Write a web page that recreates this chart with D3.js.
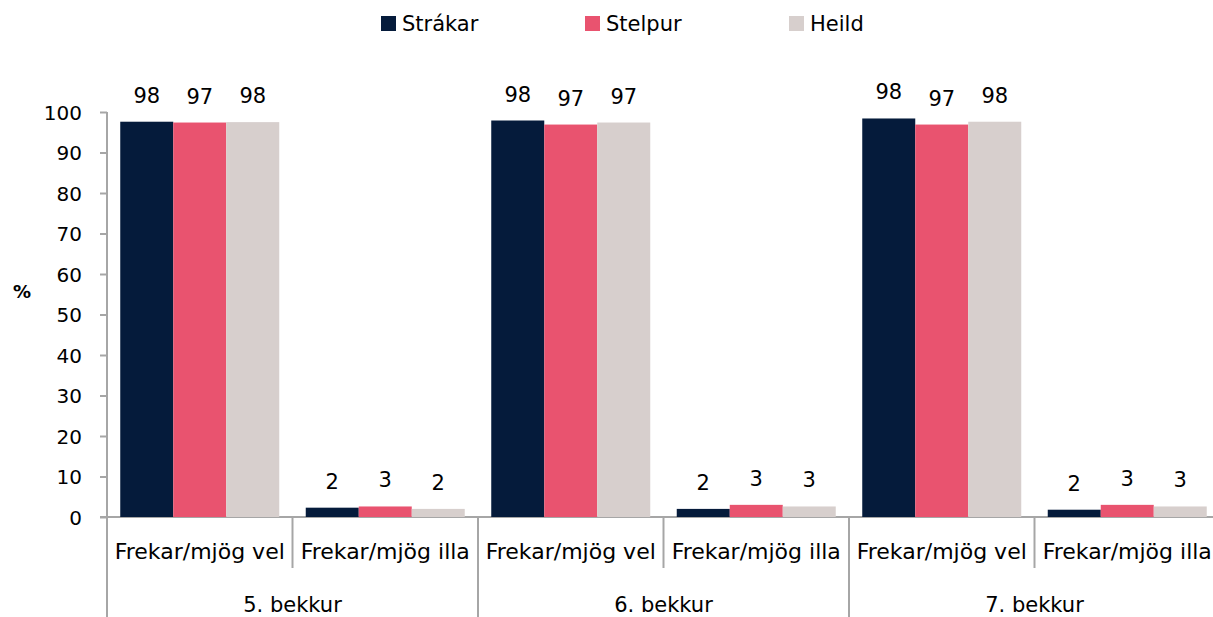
<!DOCTYPE html>
<html><head><meta charset="utf-8">
<script src="https://cdn.jsdelivr.net/npm/d3@7"></script>
<style>body{margin:0;background:#fff;} svg{display:block;} text{font-family:"DejaVu Sans",sans-serif;fill:#000;}</style>
</head><body><svg id="c" width="1213" height="617"></svg>
<script>
const groups = ["5. bekkur", "6. bekkur", "7. bekkur"];
const subcats = ["Frekar/mjög vel", "Frekar/mjög illa"];
const seriesNames = ["Strákar", "Stelpur", "Heild"];
const seriesColors = ["#051B3B", "#E9536F", "#D7CFCD"];
// values per series, order: group*2 + subcategory
const strakar = [97.6, 2.3, 97.9, 2.0, 98.4, 1.8];
const stelpur = [97.4, 2.6, 96.9, 3.0, 96.9, 3.0];
const heild   = [97.5, 2.0, 97.4, 2.6, 97.6, 2.6];
const labelsStrakar = ["98", "2", "98", "2", "98", "2"];
const labelsStelpur = ["97", "3", "97", "3", "97", "3"];
const labelsHeild   = ["98", "2", "97", "3", "98", "3"];
const yTicks = [0,10,20,30,40,50,60,70,80,90,100];

const seriesVals = [strakar, stelpur, heild];
const seriesLabels = [labelsStrakar, labelsStelpur, labelsHeild];

const svg = d3.select("#c");
const pLeft = 107, pRight = 1220, pTop = 112, pBottom = 517;
const axisColor = "#A6A6A6";
const fs = "21px";

const y = d3.scaleLinear().domain([0,100]).range([pBottom, pTop]);
const xg = d3.scaleBand().domain(groups).range([pLeft, pRight]).padding(0);
const xs = d3.scaleBand().domain(subcats).range([0, xg.bandwidth()]).padding(0);
const xb = d3.scaleBand().domain(seriesNames).range([0, xs.bandwidth()]).paddingOuter(0.25).paddingInner(0);

// y axis
const yAxis = d3.axisLeft(y).tickValues(yTicks).tickSize(7).tickPadding(18).tickSizeOuter(0);
const ya = svg.append("g").attr("transform", `translate(${pLeft},0)`).call(yAxis);
ya.select(".domain").attr("stroke", axisColor).attr("stroke-width", 2).attr("d", `M0,${pTop}V617`);
ya.selectAll(".tick line").attr("stroke", axisColor).attr("stroke-width", 2);
ya.selectAll(".tick text").style("font-size", "20px").style("font-family", "'DejaVu Sans', sans-serif").attr("fill", "#000").attr("dy", "0.36em");

svg.append("text").attr("x", 22).attr("y", 298).attr("text-anchor","middle")
  .style("font-size","18px").style("font-weight","bold").text("%");

// x axis baseline
svg.append("line").attr("x1", pLeft - 7).attr("x2", pRight).attr("y1", pBottom).attr("y2", pBottom)
  .attr("stroke", axisColor).attr("stroke-width", 2);

// bars
groups.forEach((g, gi) => {
  const gx = xg(g);
  subcats.forEach((s, si) => {
    const sx = gx + xs(s);
    seriesNames.forEach((n, ni) => {
      const v = seriesVals[ni][gi*2+si];
      const bx = sx + xb(n);
      svg.append("rect").attr("x", bx).attr("y", y(v)).attr("width", xb.bandwidth())
        .attr("height", y(0)-y(v)).attr("fill", seriesColors[ni]);
      svg.append("text").attr("x", bx + xb.bandwidth()/2).attr("y", y(v) - 19)
        .attr("text-anchor","middle").style("font-size",fs).text(seriesLabels[ni][gi*2+si]);
    });
    svg.append("text").attr("x", sx + xs.bandwidth()/2).attr("y", 559)
      .attr("text-anchor","middle").style("font-size","22px").text(s);
    if (si === 1) {
      svg.append("line").attr("x1", sx).attr("x2", sx).attr("y1", pBottom).attr("y2", 568)
        .attr("stroke", axisColor).attr("stroke-width", 2);
    }
  });
  svg.append("text").attr("x", gx + xg.bandwidth()/2).attr("y", 612)
    .attr("text-anchor","middle").style("font-size",fs).text(g);
  if (gi > 0) {
    svg.append("line").attr("x1", gx).attr("x2", gx).attr("y1", pBottom).attr("y2", 617)
      .attr("stroke", axisColor).attr("stroke-width", 2);
  }
});

// legend
const legendX = [381, 585, 789];
seriesNames.forEach((n, i) => {
  svg.append("rect").attr("x", legendX[i]).attr("y", 16).attr("width", 15).attr("height", 15).attr("fill", seriesColors[i]);
  svg.append("text").attr("x", legendX[i] + 21).attr("y", 31).style("font-size",fs).text(n);
});
</script></body></html>
